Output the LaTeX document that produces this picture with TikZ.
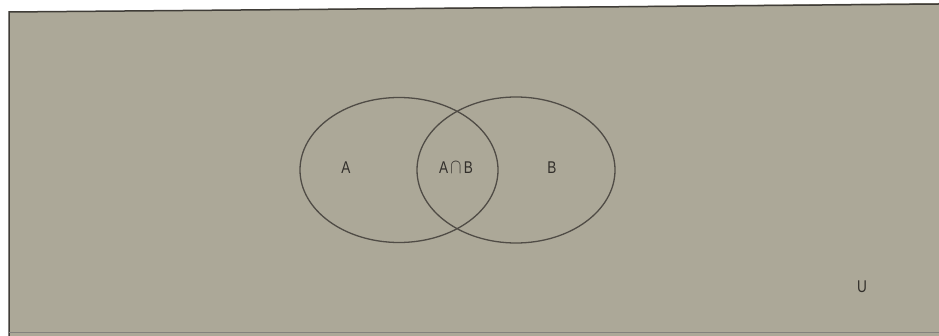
\documentclass[tikz,border=0pt]{standalone}
\usepackage{fontspec}
\setmainfont{Liberation Sans}
\usetikzlibrary{shapes.geometric}
\definecolor{paper}{RGB}{172,168,152}
\definecolor{ink}{RGB}{80,76,70}
\definecolor{txt}{RGB}{50,47,43}
\begin{document}
\begin{tikzpicture}[x=1pt,y=-1pt,
  setline/.style={draw=ink,line width=1.3pt},
  lbl/.style={text=txt,font=\fontsize{17}{17}\selectfont,inner sep=0pt,xscale=0.8}]
\useasboundingbox (0,0) rectangle (939,336);
\fill[white] (0,0) rectangle (939,336);
\fill[paper] (9,12) -- (939,3) -- (939,336) -- (9,336) -- cycle;
\draw[draw=ink!80!black,line width=1.5pt] (9,336) -- (9,12) -- (939,4);
\draw[draw=ink!70,line width=0.8pt] (9,332) -- (939,332);
\node[setline,ellipse,minimum width=198pt,minimum height=145pt,inner sep=0pt] (A) at (399,170) {};
\node[setline,ellipse,minimum width=198pt,minimum height=146pt,inner sep=0pt] (B) at (516,170) {};
\node[lbl] (la) at (346,168) {A};
\node[lbl] (lab) at (456,168) {A\,{\fontsize{20}{20}\selectfont$\cap$}\,B};
\node[lbl] (lb) at (552,168) {B};
\node[lbl] (lu) at (862,287) {U};
\end{tikzpicture}
\end{document}
